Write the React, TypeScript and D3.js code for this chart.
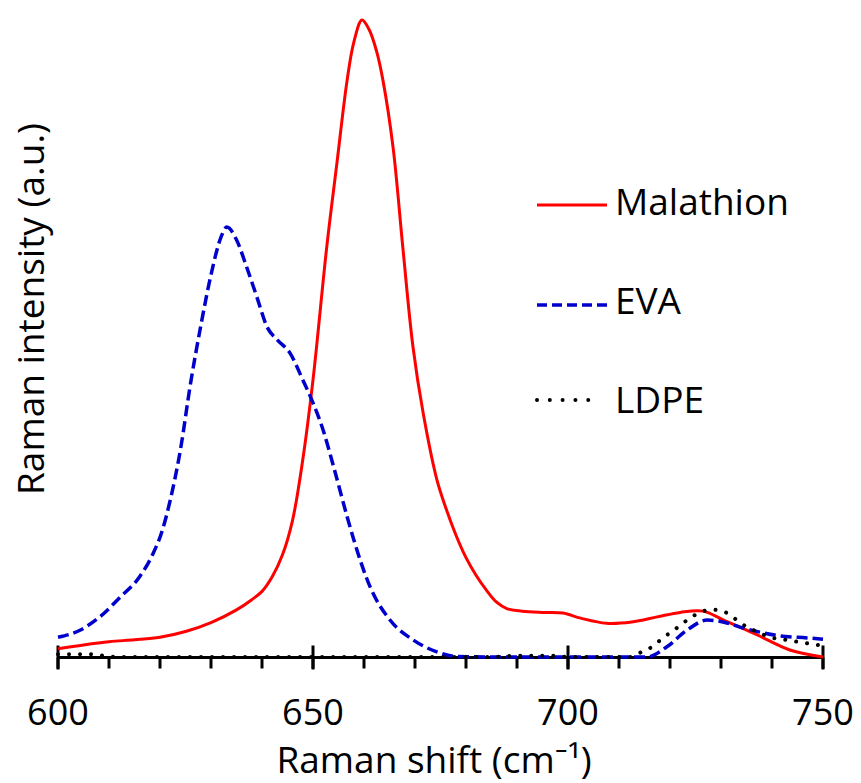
import React from "react";
import * as d3 from "d3";

const malathionX = [600,605,610,615,620,625,630,635,638,640,642,644,646,648,650,652.7,654.7,656.7,658,659.6,661,662.5,663.7,665.7,667.6,669.6,671.6,674.3,676,678,680,682,684,686,688,691,695,699,702.5,707.5,712.5,717.5,722,726.5,730.5,737,743.5,750];
const malathionY = [1.3,1.9,2.4,2.7,3.1,4.0,5.4,7.4,9.0,10.3,12.6,16.0,21.5,31,43.5,64.4,77.6,90.6,96.5,100,98.5,95,90.6,80,64.4,48.7,38.3,27.8,23.5,19.2,15.6,12.8,10.5,8.6,7.6,7.2,7.0,6.9,6.1,5.3,5.5,6.3,7.0,7.2,5.8,3.5,1.1,0];

const evaX = [600,604.3,608.2,612.2,616,618.5,620.5,622,624,626,628,630,632,633.1,635,637,639,641,643,645.5,648,650,652,654,656.7,658,661.2,665.1,669.6,674.3,678,685,700,715.5,719.4,723.3,727.3,730.4,733.7,737.6,741.6,746.9,750];
const evaY = [3.1,4.2,6.3,9.4,12.6,16,20,24.6,32.5,43,52,60,66,67.5,65.5,61.2,56.5,51.8,49.8,47.7,43.5,39.9,35.6,30,22,18.4,11,5.8,2.7,0.8,0.1,0,0,0,1.6,4.2,5.8,5.5,4.7,3.9,3.3,3.0,2.8];

const ldpeX = [600,603,606,609,612,685,690,697,700,712,714.7,716.7,718.6,720.6,722.5,724.5,726.5,728.8,731.2,733.1,735.1,737.3,739.6,742,744.1,746.5,748.8,750];
const ldpeY = [0.45,0.45,0.45,0.2,0,0,0.2,0.2,0,0,0.9,1.7,3.0,4.1,5.3,6.4,7.2,7.4,6.9,5.8,4.7,3.9,3.1,2.8,2.5,2.2,1.9,1.8];

const majorTicks = [600, 650, 700, 750];
const minorTicks = d3.range(600, 751, 10);
const seriesNames = ["Malathion", "EVA", "LDPE"];

const FONT = "'Open Sans', sans-serif";

export default function App() {
  const x = d3.scaleLinear().domain([600, 750]).range([58, 823]);
  const y = d3.scaleLinear().domain([0, 100]).range([657, 20]);
  const mkLine = (curve: d3.CurveFactory) =>
    d3
      .line<[number, number]>()
      .x((d) => x(d[0]))
      .y((d) => y(d[1]))
      .curve(curve);
  const smooth = mkLine(d3.curveCatmullRom.alpha(0.5));
  const mono = mkLine(d3.curveMonotoneX);
  const toPts = (xs: number[], ys: number[]) => xs.map((v, i) => [v, ys[i]] as [number, number]);

  const axisY = y(0) + 0.5;

  const styles = [
    { stroke: "#ff0000", width: 3, dash: undefined as string | undefined, cap: "butt" },
    { stroke: "#0000cc", width: 3.5, dash: "11 5", cap: "butt" },
    { stroke: "#000000", width: 4, dash: "0.01 11", cap: "round" },
  ];
  const legendY = [205, 305, 400];
  const legendTextY = [215, 314, 413];
  const series = [
    smooth(toPts(malathionX, malathionY)),
    mono(toPts(evaX, evaY)),
    mono(toPts(ldpeX, ldpeY)),
  ];

  return (
    <svg
      width={861}
      height={783}
      style={{ position: "absolute", left: 0, top: 0, background: "#fff" }}
      fontFamily={FONT}
    >
      <rect width={861} height={783} fill="#fff" />
      {/* x axis */}
      <line x1={x(600)} x2={x(750)} y1={axisY} y2={axisY} stroke="#000" strokeWidth={3} />
      {minorTicks.map((t) => (
        <line key={"m" + t} x1={x(t)} x2={x(t)} y1={axisY} y2={axisY + 11} stroke="#000" strokeWidth={3} />
      ))}
      {majorTicks.map((t) => (
        <line key={"M" + t} x1={x(t)} x2={x(t)} y1={axisY - 12} y2={axisY + 12} stroke="#000" strokeWidth={3} />
      ))}
      {majorTicks.map((t) => (
        <text key={"l" + t} x={x(t)} y={725} textAnchor="middle" fontSize={36} fill="#000">
          {t}
        </text>
      ))}
      <text x={434} y={773} textAnchor="middle" fontSize={37} fill="#000">
        Raman shift (cm<tspan>⁻¹</tspan>)
      </text>
      <text
        transform="translate(44,309) rotate(-90)"
        textAnchor="middle"
        fontSize={37}
        fill="#000"
      >
        Raman intensity (a.u.)
      </text>

      {/* series */}
      {series.map((d, i) => (
        <path
          key={"s" + i}
          d={d || ""}
          fill="none"
          stroke={styles[i].stroke}
          strokeWidth={styles[i].width}
          strokeDasharray={styles[i].dash}
          strokeLinecap={styles[i].cap as any}
          strokeLinejoin="round"
        />
      ))}

      {/* legend */}
      {seriesNames.map((name, i) => (
        <g key={"lg" + i}>
          <line
            x1={537}
            x2={i === 2 ? 601 : 607}
            y1={legendY[i]}
            y2={legendY[i]}
            stroke={styles[i].stroke}
            strokeWidth={styles[i].width}
            strokeDasharray={i === 1 ? "10 5" : i === 2 ? "0.01 12.8" : undefined}
            strokeLinecap={styles[i].cap as any}
          />
          <text x={615} y={legendTextY[i]} fontSize={37} fill="#000">
            {name}
          </text>
        </g>
      ))}
    </svg>
  );
}
